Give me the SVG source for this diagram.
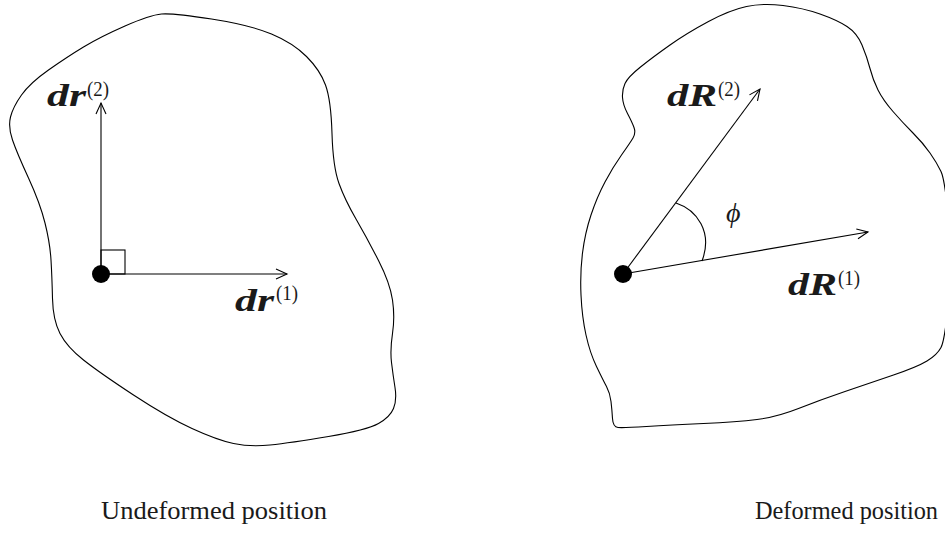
<svg xmlns="http://www.w3.org/2000/svg" width="945" height="537" viewBox="0 0 945 537">
<style>
.body{fill:none;stroke:#000;stroke-width:1.1}
.ln{fill:none;stroke:#000;stroke-width:1.1}
.vec{font-family:"Liberation Serif","DejaVu Serif",serif;font-weight:bold;font-style:italic;font-size:31px;fill:#1a1a1a}
.sup{font-family:"Liberation Serif","DejaVu Serif",serif;font-size:20px;fill:#1a1a1a}
.cap{font-family:"Liberation Serif","DejaVu Serif",serif;font-size:24.5px;fill:#1a1a1a}
.ang{font-family:"Liberation Serif","DejaVu Serif",serif;font-style:italic;font-size:28px;fill:#1a1a1a}
</style>
<defs>
<marker id="arr" markerWidth="14" markerHeight="12" refX="0" refY="0" viewBox="-12 -6 14 12" orient="auto" markerUnits="userSpaceOnUse">
<path d="M-11,-5 L0,0 L-11,5" fill="none" stroke="#000" stroke-width="1.1"/>
</marker>
</defs>
<rect width="945" height="537" fill="#fff"/>
<g id="undeformed-body">
<path class="body" d="M211.5,19 Q250,25 271.5,34 Q293,43 306.5,56.5 Q320,70 325.5,85 Q331,100 332,133.5 Q333,167 339,183.5 Q345,200 356,219 Q367,238 378.5,260.5 Q390,283 392.5,300 Q395,317 392.5,333.5 Q390,350 391.5,362.5 Q393,375 395,387.5 Q397,400 393.5,408.5 Q390,417 378.5,423.5 Q367,430 328.5,436.5 Q290,443 270,445 Q250,447 233.5,443.5 Q217,440 192,428.5 Q167,417 133.5,395 Q100,373 83.5,360 Q67,347 60,333.5 Q53,320 52.5,298.5 Q52,277 51,260 Q50,243 45,223 Q40,203 28.5,178 Q17,153 12.5,140 Q8,127 10.5,117 Q13,107 21.5,95 Q30,83 48.5,70 Q67,57 83.5,47 Q100,37 125,26 Q150,15 161.5,14 Q173,13 211.5,19 Z"/>
</g>
<g id="deformed-body">
<path class="body" d="M783,5.5 Q803,8 820,14 Q837,20 847,26.5 Q857,33 862,45 Q867,57 870,68.5 Q873,80 878,90 Q883,100 893,111.5 Q903,123 913,133 Q923,143 930,153 Q937,163 941,171.5 Q945,180 948.5,220 Q952,260 948.5,300 Q945,340 941,347.5 Q937,355 927,361 Q917,367 893.5,375 Q870,383 845,391.5 Q820,400 798.5,408.5 Q777,417 757,419.5 Q737,422 703.5,423.5 Q670,425 646.5,426.5 Q623,428 618,427.5 Q613,427 612.5,418.5 Q612,410 611,401.5 Q610,393 606.5,386.5 Q603,380 596.5,366.5 Q590,353 586,335 Q582,317 581,295 Q580,273 582.5,253 Q585,233 591,215 Q597,197 605,182 Q613,167 621.5,155 Q630,143 633,138 Q636,133 634,127.5 Q632,122 627.5,113.5 Q623,105 622.5,97.5 Q622,90 625,83.5 Q628,77 640.5,67 Q653,57 670,45 Q687,33 708.5,21.5 Q730,10 746.5,6.5 Q763,3 783,5.5 Z"/>
</g>
<g id="connectors">
<line class="ln" x1="101" y1="274" x2="287" y2="274" marker-end="url(#arr)"/>
<line class="ln" x1="101" y1="274" x2="101" y2="103" marker-end="url(#arr)"/>
<line class="ln" x1="623" y1="274" x2="760" y2="89" marker-end="url(#arr)"/>
<line class="ln" x1="623" y1="274" x2="868" y2="232" marker-end="url(#arr)"/>
<path class="ln" d="M676,203 C697,210 713,232 702,261"/>
<rect class="ln" x="101" y="250" width="24" height="24"/>
</g>
<g id="point-undeformed"><circle cx="101" cy="274" r="9" fill="#000"/></g>
<g id="point-deformed"><circle cx="623" cy="274" r="9" fill="#000"/></g>
<g id="label-dr2">
<text class="vec" x="47" y="106" textLength="39" lengthAdjust="spacingAndGlyphs">dr</text>
<text class="sup" x="87" y="96" textLength="22" lengthAdjust="spacingAndGlyphs">(2)</text>
</g>
<g id="label-dr1">
<text class="vec" x="235" y="311" textLength="39" lengthAdjust="spacingAndGlyphs">dr</text>
<text class="sup" x="276" y="300" textLength="22" lengthAdjust="spacingAndGlyphs">(1)</text>
</g>
<g id="label-dR2">
<text class="vec" x="667" y="106" textLength="50" lengthAdjust="spacingAndGlyphs">dR</text>
<text class="sup" x="718" y="96" textLength="22" lengthAdjust="spacingAndGlyphs">(2)</text>
</g>
<g id="label-dR1">
<text class="vec" x="788" y="295" textLength="49" lengthAdjust="spacingAndGlyphs">dR</text>
<text class="sup" x="838" y="285" textLength="22" lengthAdjust="spacingAndGlyphs">(1)</text>
</g>
<g id="label-phi"><text class="ang" x="726" y="222">ϕ</text></g>
<g id="caption-undeformed"><text class="cap" x="101" y="519" textLength="226" lengthAdjust="spacingAndGlyphs">Undeformed position</text></g>
<g id="caption-deformed"><text class="cap" x="755" y="519" textLength="183" lengthAdjust="spacingAndGlyphs">Deformed position</text></g>
</svg>
